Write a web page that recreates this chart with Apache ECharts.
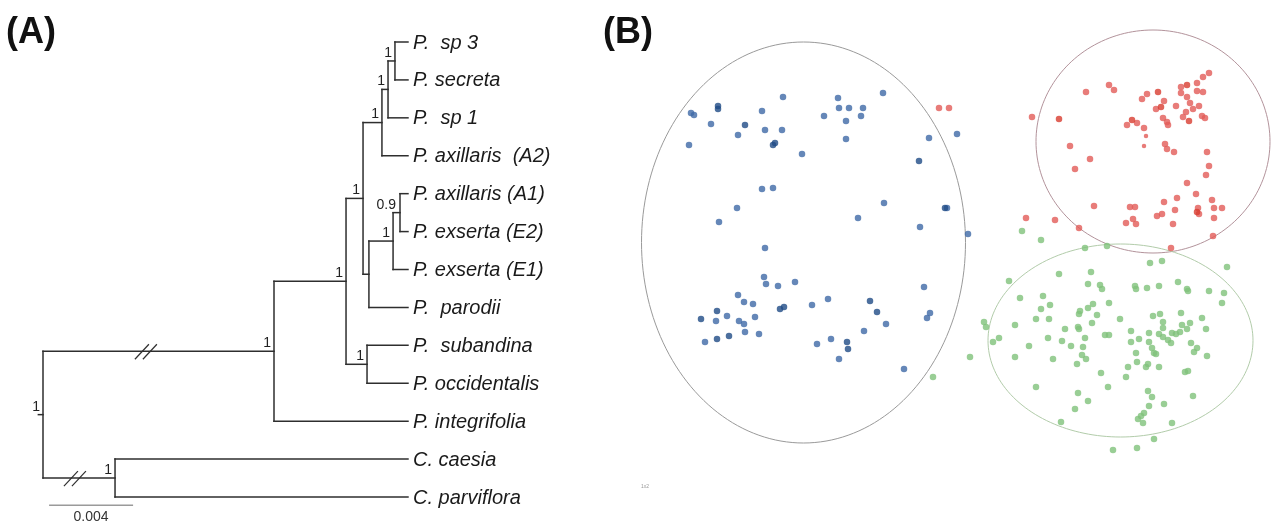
<!DOCTYPE html>
<html><head><meta charset="utf-8">
<script src="https://cdn.jsdelivr.net/npm/echarts@6/dist/echarts.min.js"></script>
<style>html,body{margin:0;padding:0;background:#fff}#c{width:1272px;height:522px}</style>
</head><body><div id="c"></div>
<script>
// ================= Panel A: phylogeny data =================
const tipNames = ["P.  sp 3", "P. secreta", "P.  sp 1", "P. axillaris  (A2)", "P. axillaris (A1)",
  "P. exserta (E2)", "P. exserta (E1)", "P.  parodii", "P.  subandina", "P. occidentalis",
  "P. integrifolia", "C. caesia", "C. parviflora"];
const tipDepth = 17.38; // drawn tip depth (x10^-3 subst./site)
const nodeNames = ['sp3sec','sp1','A2','A1E2','E1','par','upper','sub','core','in','out','root'];
const nodeDepth = [16.76, 16.43, 16.14, 17.0, 16.67, 15.52, 15.24, 15.43, 14.43, 11.0, 3.43, 0];
const nodeChildren = [[0,1],['sp3sec',2],['sp1',3],[4,5],['A1E2',6],['E1',7],['A2','par'],[8,9],
  ['upper','sub'],['core',10],[11,12],['in','out']];
const nodeSupport = ['1','1','1','0.9','1','','1','1','1','1','1','1'];
const breakBranches = ['in','out'];
const breakDepths = [4.9, 1.52];
const scaleBarLength = 4;          // 0.004
const scaleBarLabel = '0.004';

// ================= Panel B: ordination scores =================
const blueScores = [
[-2.59,1.47],[-2.56,1.45],[-1.67,1.63],[-1.88,1.49],[-2.39,1.36],[-2.12,1.25],[-1.85,1.30],[-1.68,1.30],[-2.61,1.15],[-1.48,1.06],
[-1.12,1.62],[-1.11,1.52],[-1.01,1.52],[-0.87,1.52],[-1.26,1.44],[-1.04,1.39],[-0.89,1.44],[-1.04,1.21],[-0.67,1.67],[-0.21,1.22],
[0.07,1.26],[-1.88,0.71],[-1.77,0.72],[-2.13,0.52],[-2.31,0.38],[-0.66,0.57],[-0.92,0.42],[-0.03,0.52],[-0.30,0.33],[0.18,0.26],
[-1.85,0.12],[-1.86,-0.17],[-1.84,-0.24],[-1.72,-0.26],[-1.55,-0.22],[-2.12,-0.35],[-2.06,-0.42],[-1.97,-0.44],[-2.34,-0.61],[-2.23,-0.56],
[-2.11,-0.61],[-2.06,-0.64],[-1.95,-0.57],[-2.05,-0.72],[-1.91,-0.74],[-2.45,-0.82],[-1.38,-0.45],[-1.22,-0.39],[-1.33,-0.84],[-1.19,-0.79],
[-1.11,-0.99],[-0.86,-0.71],[-0.64,-0.64],[-0.26,-0.27],[-0.20,-0.53],[-0.23,-0.58],[-0.46,-1.09]];
const blueDarkScores = [
[-2.32,1.54],[-2.32,1.51],[-2.05,1.35],[-1.75,1.17],[-1.77,1.15],[-0.31,0.99],[-0.05,0.52],[-2.33,-0.51],[-2.49,-0.59],[-1.70,-0.49],
[-1.66,-0.47],[-2.33,-0.79],[-2.21,-0.76],[-1.03,-0.82],[-1.02,-0.89],[-0.80,-0.41],[-0.73,-0.52]];
const redScores = [
[-0.11,1.52],[-0.01,1.52],[0.82,1.43],[1.20,1.14],[1.40,1.01],[1.25,0.91],[1.36,1.68],[1.59,1.75],[1.64,1.70],[1.92,1.61],
[1.97,1.66],[2.14,1.59],[2.06,1.51],[2.26,1.54],[2.31,1.73],[2.31,1.67],[2.37,1.63],[2.40,1.57],[2.47,1.77],[2.53,1.83],
[2.59,1.87],[2.47,1.69],[2.53,1.68],[2.49,1.54],[2.43,1.51],[2.36,1.48],[2.33,1.43],[2.52,1.44],[2.55,1.42],[1.87,1.37],
[1.77,1.35],[1.94,1.32],[2.13,1.42],[2.17,1.38],[2.18,1.35],[2.15,1.16],[2.17,1.11],[2.24,1.08],[2.57,1.08],[2.59,0.94],
[2.56,0.85],[2.37,0.77],[2.46,0.66],[2.27,0.62],[2.14,0.58],[2.25,0.50],[2.62,0.60],[2.64,0.52],[2.72,0.52],[2.64,0.42],
[2.63,0.24],[2.48,0.52],[2.49,0.46],[2.23,0.36],[2.12,0.46],[2.07,0.44],[1.80,0.53],[1.85,0.53],[1.83,0.41],[1.86,0.36],
[1.76,0.37],[1.44,0.54],[1.29,0.32],[1.05,0.40],[0.76,0.42],[2.21,0.12]];
const redDarkScores = [[1.09,1.41],[2.08,1.68],[2.11,1.53],[2.37,1.75],[2.39,1.39],[1.82,1.40],[2.47,0.48]];
const redSmallScores = [[1.96,1.24],[1.94,1.14]];
const greenScores = [
[0.72,0.29],[0.91,0.20],[1.35,0.12],[1.57,0.14],[2.00,-0.03],[2.12,-0.01],[2.77,-0.07],[1.09,-0.14],[1.41,-0.12],[0.59,-0.21],
[1.38,-0.24],[1.50,-0.25],[1.52,-0.29],[1.85,-0.26],[1.86,-0.29],[1.97,-0.28],[2.09,-0.26],[2.28,-0.22],[2.37,-0.29],[2.38,-0.31],
[2.59,-0.31],[2.74,-0.33],[2.72,-0.43],[0.70,-0.38],[0.93,-0.36],[1.00,-0.45],[0.91,-0.49],[0.65,-0.65],[0.86,-0.59],[0.99,-0.59],
[0.34,-0.62],[0.36,-0.67],[0.43,-0.82],[0.49,-0.78],[0.20,-0.97],[0.65,-0.97],[0.79,-0.86],[0.98,-0.78],[1.12,-0.81],[1.15,-0.69],
[1.21,-0.86],[1.27,-1.04],[1.03,-0.99],[1.29,-0.54],[1.30,-0.51],[1.38,-0.48],[1.43,-0.44],[1.47,-0.55],[1.42,-0.63],[1.28,-0.67],
[1.29,-0.69],[1.35,-0.78],[1.33,-0.87],[1.32,-0.95],[1.36,-0.99],[1.59,-0.43],[1.55,-0.75],[1.59,-0.75],[1.70,-0.59],[1.81,-0.71],
[1.81,-0.82],[1.86,-0.93],[1.89,-0.79],[1.87,-1.02],[1.99,-0.73],[1.99,-0.82],[2.02,-0.88],[2.04,-0.93],[2.06,-0.94],[2.03,-0.56],
[2.10,-0.54],[2.13,-0.62],[2.13,-0.68],[2.09,-0.74],[2.13,-0.77],[2.22,-0.73],[2.26,-0.74],[2.30,-0.72],[2.31,-0.53],[2.32,-0.65],
[2.37,-0.69],[2.40,-0.63],[2.18,-0.80],[2.21,-0.83],[2.41,-0.83],[2.47,-0.88],[2.44,-0.92],[2.57,-0.96],[2.56,-0.69],[2.52,-0.58],
[1.78,-1.07],[1.98,-1.04],[1.96,-1.07],[2.09,-1.07],[2.35,-1.12],[2.38,-1.11],[1.51,-1.13],[1.58,-1.27],[1.76,-1.17],[0.86,-1.27],
[1.11,-1.62],[1.98,-1.31],[2.02,-1.37],[1.99,-1.46],[1.94,-1.53],[1.91,-1.56],[1.88,-1.59],[1.93,-1.63],[2.14,-1.44],[2.43,-1.36],
[2.22,-1.63],[1.28,-1.33],[1.38,-1.41],[1.25,-1.49],[2.04,-1.79],[1.87,-1.88],[1.63,-1.90],[-0.17,-1.17]];
// group ellipses: centre x, centre y, radius x, radius y
const groupEllipses = [[-1.465,0.175,1.62,2.005],[2.03,1.185,1.17,1.115],[1.705,-0.805,1.325,0.965]];

// ================= styles / layout =================
const TREE_COLOR = '#2e2e2e';
const ELLIPSE_COLORS = ['#9a9a9a', '#b3939b', '#b2ccaa'];
const BLUE = '#3e69a6', BLUE_DARK = '#1f4b86', RED = '#e25b57', RED_DARK = '#d83c30', GREEN = '#7fc27b';
const ROOT_STUB = 0.22;
const SCALE_X0 = 0.29, SCALE_Y = 12.22;
const TIP_FONT = 'italic 20px "Liberation Sans", Arial, sans-serif';
const NODE_FONT = '14px "Liberation Sans", Arial, sans-serif';
const supportOffset = {A1E2: [-4, -7]};

// ================= tree layout =================
const nodeIndex = {}; nodeNames.forEach((n, i) => nodeIndex[n] = i);
const nodeY = [];
function childPos(c) {
  if (typeof c === 'number') return {x: tipDepth, y: c};
  const i = nodeIndex[c]; return {x: nodeDepth[i], y: getY(i)};
}
function getY(i) {
  if (nodeY[i] !== undefined) return nodeY[i];
  const ys = nodeChildren[i].map(c => childPos(c).y);
  nodeY[i] = (Math.min(...ys) + Math.max(...ys)) / 2;
  return nodeY[i];
}
nodeNames.forEach((_, i) => getY(i));
const edges = [];
nodeNames.forEach((n, i) => {
  const cs = nodeChildren[i].map(childPos);
  const ys = cs.map(c => c.y);
  edges.push([nodeDepth[i], Math.min(...ys), nodeDepth[i], Math.max(...ys)]);
  cs.forEach(c => edges.push([nodeDepth[i], c.y, c.x, c.y]));
});
const ri = nodeIndex['root'];
edges.push([nodeDepth[ri] - ROOT_STUB, nodeY[ri], nodeDepth[ri], nodeY[ri]]);

const tipData = tipNames.map((t, i) => [tipDepth, i, i]);
const supportData = nodeNames.map((n, i) => [nodeDepth[i], nodeY[i], i]).filter(d => nodeSupport[d[2]] !== '');
const breakData = breakBranches.map((b, k) => [breakDepths[k], nodeY[nodeIndex[b]]]);

function segItem(color, width) {
  return function (params, api) {
    const a = api.coord([api.value(0), api.value(1)]);
    const b = api.coord([api.value(2), api.value(3)]);
    return {type: 'line', shape: {x1: a[0], y1: a[1], x2: b[0], y2: b[1]},
      style: {stroke: color, lineWidth: width, lineCap: 'square'}};
  };
}

const chart = echarts.init(document.getElementById('c'));
chart.setOption({
  animation: false,
  backgroundColor: '#fff',
  grid: [
    {left: 22, top: 42, width: 399, height: 455},
    {left: 630, top: 0, width: 642, height: 522}
  ],
  xAxis: [
    {type: 'value', gridIndex: 0, min: -1, max: 18, show: false},
    {type: 'value', gridIndex: 1, min: -3.2, max: 3.22, show: false}
  ],
  yAxis: [
    {type: 'value', gridIndex: 0, min: 0, max: 12, inverse: true, show: false},
    {type: 'value', gridIndex: 1, min: -2.62, max: 2.60, show: false}
  ],
  graphic: [
    {type: 'text', left: 6, top: 15, style: {text: '(A)', font: 'bold 36px "Liberation Sans", Arial, sans-serif', fill: '#111'}},
    {type: 'text', left: 603, top: 15, style: {text: '(B)', font: 'bold 36px "Liberation Sans", Arial, sans-serif', fill: '#111'}},
    {type: 'text', left: 641, top: 484, style: {text: '1x2', font: '5px "Liberation Sans", Arial, sans-serif', fill: '#999'}}
  ],
  series: [
    {type: 'custom', xAxisIndex: 0, yAxisIndex: 0, clip: false, silent: true,
      data: edges, encode: {x: [0, 2], y: [1, 3]}, renderItem: segItem(TREE_COLOR, 1.5)},
    {type: 'custom', xAxisIndex: 0, yAxisIndex: 0, clip: false, silent: true,
      data: [[SCALE_X0, SCALE_Y, SCALE_X0 + scaleBarLength, SCALE_Y]], encode: {x: [0, 2], y: [1, 3]},
      renderItem: function (params, api) {
        const a = api.coord([api.value(0), api.value(1)]);
        const b = api.coord([api.value(2), api.value(3)]);
        return {type: 'group', children: [
          {type: 'line', shape: {x1: a[0], y1: a[1], x2: b[0], y2: b[1]}, style: {stroke: '#9a9a9a', lineWidth: 1.5}},
          {type: 'text', x: (a[0] + b[0]) / 2, y: a[1] + 5, style: {text: scaleBarLabel, font: NODE_FONT, fill: '#333', align: 'center', verticalAlign: 'top'}}
        ]};
      }},
    {type: 'custom', xAxisIndex: 0, yAxisIndex: 0, clip: false, silent: true,
      data: breakData,
      renderItem: function (params, api) {
        const p = api.coord([api.value(0), api.value(1)]);
        const mk = dx => ({type: 'line', shape: {x1: p[0] + dx - 7, y1: p[1] + 8, x2: p[0] + dx + 7, y2: p[1] - 7},
          style: {stroke: TREE_COLOR, lineWidth: 1.2}});
        return {type: 'group', children: [mk(-4), mk(4)]};
      }},
    {type: 'custom', xAxisIndex: 0, yAxisIndex: 0, clip: false, silent: true,
      data: tipData,
      renderItem: function (params, api) {
        const p = api.coord([api.value(0), api.value(1)]);
        return {type: 'text', x: p[0] + 5, y: p[1] + 1,
          style: {text: tipNames[api.value(2)], font: TIP_FONT, fill: '#1a1a1a', align: 'left', verticalAlign: 'middle'}};
      }},
    {type: 'custom', xAxisIndex: 0, yAxisIndex: 0, clip: false, silent: true,
      data: supportData,
      renderItem: function (params, api) {
        const p = api.coord([api.value(0), api.value(1)]);
        const i = api.value(2);
        const off = supportOffset[nodeNames[i]];
        const dx = off ? off[0] : -3, dy = off ? off[1] : -8;
        return {type: 'text', x: p[0] + dx, y: p[1] + dy,
          style: {text: nodeSupport[i], font: NODE_FONT, fill: '#222', align: 'right', verticalAlign: 'middle'}};
      }},
    {type: 'custom', xAxisIndex: 1, yAxisIndex: 1, clip: false, silent: true, z: 1,
      data: groupEllipses, encode: {x: 0, y: 1},
      renderItem: function (params, api) {
        const cx = api.value(0), cy = api.value(1), rx = api.value(2), ry = api.value(3);
        const pts = [];
        for (let k = 0; k <= 180; k++) {
          const t = k / 180 * 2 * Math.PI;
          pts.push(api.coord([cx + rx * Math.cos(t), cy + ry * Math.sin(t)]));
        }
        return {type: 'polyline', shape: {points: pts},
          style: {stroke: ELLIPSE_COLORS[params.dataIndex], fill: null, lineWidth: 1}};
      }},
    {type: 'scatter', xAxisIndex: 1, yAxisIndex: 1, data: blueScores, symbolSize: 6.5, z: 3, itemStyle: {color: BLUE}},
    {type: 'scatter', xAxisIndex: 1, yAxisIndex: 1, data: blueDarkScores, symbolSize: 6.5, z: 3, itemStyle: {color: BLUE_DARK}},
    {type: 'scatter', xAxisIndex: 1, yAxisIndex: 1, data: redScores, symbolSize: 6.5, z: 3, itemStyle: {color: RED}},
    {type: 'scatter', xAxisIndex: 1, yAxisIndex: 1, data: redDarkScores, symbolSize: 6.5, z: 3, itemStyle: {color: RED_DARK}},
    {type: 'scatter', xAxisIndex: 1, yAxisIndex: 1, data: redSmallScores, symbolSize: 4.5, z: 3, itemStyle: {color: RED}},
    {type: 'scatter', xAxisIndex: 1, yAxisIndex: 1, data: greenScores, symbolSize: 6.5, z: 3, itemStyle: {color: GREEN}}
  ]
});
</script></body></html>
